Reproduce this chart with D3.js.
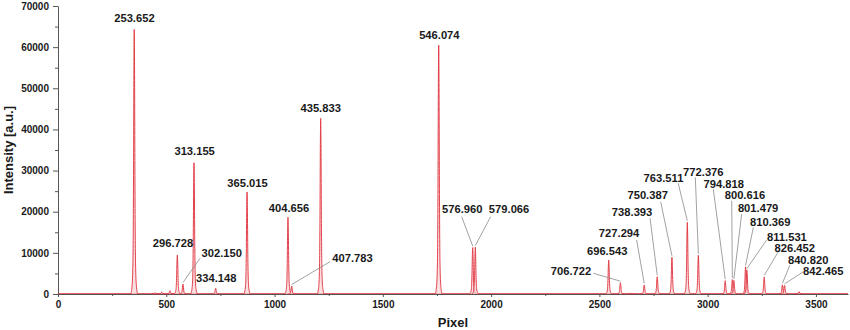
<!DOCTYPE html>
<html>
<head>
<meta charset="utf-8">
<script src="https://cdn.jsdelivr.net/npm/d3@7/dist/d3.min.js"></script>
<style>
  html, body { margin: 0; padding: 0; background: #fff; }
  svg { display: block; font-family: "Liberation Sans", Arial, Helvetica, sans-serif; }
</style>
</head>
<body>
<svg id="chart" width="850" height="330"></svg>
<script>
// Labelled emission lines: wavelength (nm), detector pixel, peak intensity
const lineLabel = ["253.652","296.728","302.150","313.155","334.148","365.015","404.656","407.783",
  "435.833","546.074","576.960","579.066","696.543","706.722","727.294","738.393","750.387",
  "763.511","772.376","794.818","800.616","801.479","810.369","811.531","826.452","840.820","842.465"];
const linePixel = [352, 551, 577, 628, 728, 873, 1062, 1079,
  1213, 1758, 1915, 1927, 2543, 2597, 2707, 2767, 2835,
  2906, 2957, 3081, 3114, 3121, 3175, 3181, 3261, 3345, 3355];
const lineIntensity = [64300, 9480, 2430, 31900, 1390, 24800, 18640, 1940,
  42700, 60500, 11300, 11400, 8260, 2750, 2190, 4200, 8920,
  17430, 9410, 3230, 3500, 3300, 6600, 5800, 4130, 2200, 2100];

// Weak unlabelled features
const minorPixel = [448, 479, 517, 2644, 3422];
const minorIntensity = [350, 450, 800, 250, 550];

// Label placement (pixel, intensity of the text baseline centre)
const labelPixel = [353, 531, 756, 631, 731, 875, 1067, 1360,
  1213, 1761, 1867, 2083, 2536, 2369, 2591, 2651, 2723,
  2796, 2980, 3074, 3172, 3233, 3289, 3366, 3402, 3464, 3534];
const labelIntensity = [66110, 11420, 8990, 33780, 2920, 26010, 19930, 7780,
  44230, 61980, 19690, 19690, 9480, 4620, 13850, 18960, 23090,
  27220, 28680, 25760, 23090, 19930, 16530, 12880, 10210, 7290, 4620];
// Start of the leader line for crowded labels (null = label sits on its peak)
const leaderPixel = [null, null, 656, null, null, null, null, 1256,
  null, null, 1864, 1998, null, 2472, 2672, 2734, 2783,
  2864, 2943, 3026, 3111, 3157, 3211, 3272, 3326, 3380, 3442];
const leaderIntensity = [null, null, 8680, null, null, null, null, 7850,
  null, null, 18790, 18790, null, 5030, 13120, 18400, 22430,
  26910, 28360, 25450, 22680, 19440, 16210, 13120, 10280, 7050, 5420];

// Line profile: offset from centre (pixels) and fraction of peak height
const profileOffset = [-16, -10, -6, -3.5, -1.5, 0, 1.5, 3.5, 6, 10, 16];
const profileShape  = [0, 0.03, 0.12, 0.4, 0.85, 1, 0.85, 0.4, 0.12, 0.03, 0];

const xTicks = [0, 500, 1000, 1500, 2000, 2500, 3000, 3500];
const xMinorTicks = [250, 750, 1250, 1750, 2250, 2750, 3250];
const yTicks = [0, 10000, 20000, 30000, 40000, 50000, 60000, 70000];
const yMinorTicks = [5000, 15000, 25000, 35000, 45000, 55000, 65000];
const pixelRange = [0, 3648];
const intensityRange = [0, 70000];

const svg = d3.select("#chart");
const margin = { left: 58, right: 2, top: 6, bottom: 36 };
const W = 850, H = 330;

const x = d3.scaleLinear().domain(pixelRange).range([margin.left, W - margin.right]);
const y = d3.scaleLinear().domain(intensityRange).range([H - margin.bottom, margin.top]);

const textColor = "#1a1a1a";
const red = "#e0303a";

// Axes (drawn first so the spectrum baseline sits on top)
const xAxis = svg.append("g").attr("transform", `translate(0,${y(0)})`)
  .call(d3.axisBottom(x).tickValues(xTicks).tickSize(3).tickSizeOuter(0).tickPadding(4)
    .tickFormat(d3.format("d")));
const xMinor = svg.append("g").attr("transform", `translate(0,${y(0)})`)
  .call(d3.axisBottom(x).tickValues(xMinorTicks).tickSize(2).tickSizeOuter(0).tickFormat(""));
const yAxis = svg.append("g").attr("transform", `translate(${x(0)},0)`)
  .call(d3.axisLeft(y).tickValues(yTicks).tickSize(5).tickSizeOuter(0).tickPadding(4)
    .tickFormat(d3.format("d")));
const yMinor = svg.append("g").attr("transform", `translate(${x(0)},0)`)
  .call(d3.axisLeft(y).tickValues(yMinorTicks).tickSize(3).tickSizeOuter(0).tickFormat(""));

[xAxis, xMinor, yAxis, yMinor].forEach(g => {
  g.select(".domain").attr("stroke", "#555").attr("stroke-width", 1);
  g.selectAll(".tick line").attr("stroke", "#555");
  g.selectAll("text").attr("fill", textColor).attr("font-size", 10).attr("font-weight", "bold")
    .attr("font-family", "'Liberation Sans', Arial, sans-serif");
});
xMinor.select(".domain").remove();
yMinor.select(".domain").remove();

// Spectrum baseline
svg.append("line")
  .attr("x1", x(pixelRange[0])).attr("x2", x(pixelRange[1]))
  .attr("y1", y(0) - 0.5).attr("y2", y(0) - 0.5)
  .attr("stroke", red).attr("stroke-width", 0.9).attr("opacity", 0.85);

// Peaks: each line drawn with the shared profile
const peaks = linePixel.map((p, i) => ({ p, v: lineIntensity[i] }))
  .concat(minorPixel.map((p, i) => ({ p, v: minorIntensity[i] })))
  .sort((a, b) => a.p - b.p);

const peakLine = d3.line().x(d => x(d[0])).y(d => y(d[1])).curve(d3.curveMonotoneX);
svg.append("g").selectAll("path").data(peaks).join("path")
  .attr("d", d => peakLine(profileOffset.map((o, k) => [d.p + o, d.v * profileShape[k]])))
  .attr("fill", "#f7d3d5")
  .attr("fill-opacity", 0.7)
  .attr("stroke", red)
  .attr("stroke-width", 0.9)
  .attr("stroke-linejoin", "round");

// Leader lines
const labels = lineLabel.map((t, i) => ({
  t, p: linePixel[i], v: lineIntensity[i],
  lp: labelPixel[i], lv: labelIntensity[i],
  sp: leaderPixel[i], sv: leaderIntensity[i]
}));

svg.append("g").selectAll("line").data(labels.filter(d => d.sp !== null)).join("line")
  .attr("x1", d => x(d.sp)).attr("y1", d => y(d.sv))
  .attr("x2", d => x(d.p)).attr("y2", d => y(d.v) - 1.5)
  .attr("stroke", "#8a8a8a").attr("stroke-width", 0.8);

// Wavelength labels
svg.append("g").selectAll("text").data(labels).join("text")
  .attr("x", d => x(d.lp)).attr("y", d => y(d.lv))
  .attr("text-anchor", "middle")
  .attr("font-size", 11.2).attr("font-weight", "bold")
  .attr("fill", textColor)
  .text(d => d.t);

// Axis titles
svg.append("text")
  .attr("x", (x.range()[0] + x.range()[1]) / 2).attr("y", 327)
  .attr("text-anchor", "middle").attr("font-size", 13).attr("font-weight", "bold")
  .attr("fill", textColor).text("Pixel");

svg.append("text")
  .attr("transform", `translate(13,${(y.range()[0] + y.range()[1]) / 2}) rotate(-90)`)
  .attr("text-anchor", "middle").attr("font-size", 13).attr("font-weight", "bold")
  .attr("fill", textColor).text("Intensity [a.u.]");
</script>
</body>
</html>
